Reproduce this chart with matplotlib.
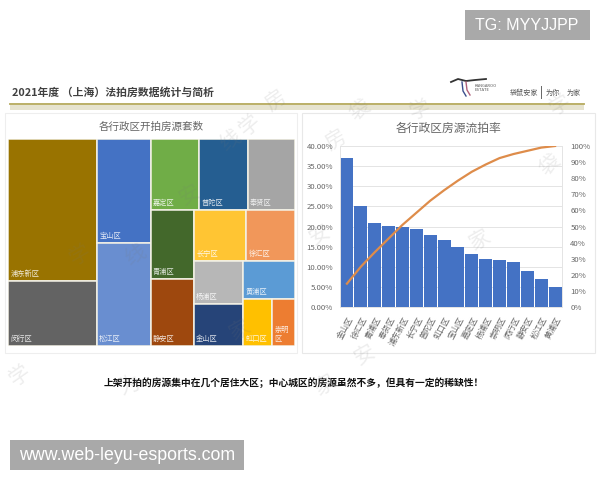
import matplotlib
matplotlib.use('Agg')
import matplotlib.pyplot as plt
from matplotlib.patches import Rectangle
from matplotlib.ticker import PercentFormatter

plt.rcParams['font.family'] = ['Noto Sans CJK SC', 'DejaVu Sans']

W, H = 600, 480

# treemap data, house counts
tree_names = ['浦东新区', '闵行区', '宝山区', '松江区', '嘉定区', '普陀区', '奉贤区', '青浦区',
              '静安区', '长宁区', '徐汇区', '杨浦区', '金山区', '黄浦区', '虹口区', '崇明区']
tree_values = [1228, 562, 548, 540, 336, 336, 329, 290, 281, 263, 242, 206, 206, 192, 129, 106]
tree_colors = ['#997300', '#636363', '#4472C4', '#698ED0', '#70AD47', '#255E91', '#A5A5A5', '#43682B',
               '#9E480E', '#FFC533', '#F1975A', '#B7B7B7', '#264478', '#5B9BD5', '#FFC000', '#ED7D31']

# bar + cumulative line data
bar_names = ['金山区', '徐汇区', '青浦区', '奉贤区', '浦东新区', '长宁区', '普陀区', '虹口区',
             '宝山区', '嘉定区', '杨浦区', '崇明区', '闵行区', '静安区', '松江区', '黄浦区']
bar_rates = [37.0, 25.0, 20.8, 20.1, 19.8, 19.5, 17.9, 16.6, 14.9, 13.1, 12.0, 11.7, 11.3, 9.0, 7.0, 5.0]
cum_rates = [14.5, 25, 34, 42.5, 51, 58.5, 66, 72.5, 78.5, 84, 88.5, 92.5, 95, 97, 99, 100]

# how the treemap is split up: h = side by side, v = stacked
layout = ('h', [('v', ['浦东新区', '闵行区']),
                ('v', ['宝山区', '松江区']),
                ('v', [('h', ['嘉定区', '普陀区', '奉贤区']),
                       ('h', [('v', ['青浦区', '静安区']),
                              ('v', [('h', ['长宁区', '徐汇区']),
                                     ('h', [('v', ['杨浦区', '金山区']),
                                            ('v', ['黄浦区', ('h', ['虹口区', '崇明区'])])])])])])])

watermarks = [(360, 110, '袋', 35), (275, 100, '房', 35), (250, 125, '学', 40), (230, 140, '线', 35),
              (80, 255, '学', 30), (20, 375, '学', 35), (130, 385, '为', 20), (325, 385, '家', 30),
              (335, 140, '房', 30), (320, 235, '安', 30), (480, 240, '家', 30), (550, 165, '袋', 40),
              (190, 195, '安', 30), (240, 330, '家', 30), (420, 110, '学', 20), (135, 255, '线', 30),
              (560, 105, '学', 30), (365, 355, '安', 30)]


def box(x0, y0, x1, y1):
    return [x0 / W, 1 - y1 / H, (x1 - x0) / W, (y1 - y0) / H]


def node_value(node):
    if isinstance(node, str):
        return tree_values[tree_names.index(node)]
    return sum(node_value(c) for c in node[1])


def draw_node(ax, node, x, y, w, h):
    if isinstance(node, str):
        i = tree_names.index(node)
        ax.add_patch(Rectangle((x, y), w, h, fc=tree_colors[i], ec='#F4F2E6', lw=1.1))
        # narrow cell gets its label wrapped
        label = node if w > 25 else node[:2] + '\n' + node[2:]
        ax.text(x + 2.5, y + h - 3, label, color='white', fontsize=5.2, va='bottom', ha='left', alpha=0.85)
        return
    total = node_value(node)
    for child in node[1]:
        part = node_value(child) / total
        if node[0] == 'h':
            draw_node(ax, child, x, y, w * part, h)
            x += w * part
        else:
            draw_node(ax, child, x, y, w, h * part)
            y += h * part


def draw_page(fig):
    bg = fig.add_axes([0, 0, 1, 1])
    bg.set_xlim(0, W)
    bg.set_ylim(H, 0)
    bg.axis('off')
    bg.text(12, 92, '2021年度 （上海）法拍房数据统计与简析', fontsize=7.8, fontweight='bold',
            color='#404040', va='center')
    bg.plot([10, 584], [103.5, 103.5], color='#B5A95C', lw=1.3)
    bg.add_patch(Rectangle((10, 105), 574, 5, fc='#E6E3CF', ec='none'))
    # logo
    bg.plot([451, 458, 466, 475, 486], [82, 79, 81, 80, 79], color='#333333', lw=1.3)
    bg.plot([462, 463, 466], [82, 91, 96], color='#3B4E8C', lw=1)
    bg.plot([466, 467, 470], [82, 90, 95], color='#B0607A', lw=1)
    bg.text(475, 88, 'KANGAROO\nESTATE', fontsize=3, color='#555555', va='center', linespacing=1)
    bg.text(510, 92.5, '袋鼠安家', fontsize=5.1, color='#555555', va='center')
    bg.plot([541, 541], [86, 98], color='#666666', lw=0.7)
    bg.text(546, 92.5, '为你', fontsize=5.1, color='#555555', va='center')
    bg.text(567, 92.5, '为家', fontsize=5.1, color='#555555', va='center')
    # chart frames
    bg.add_patch(Rectangle((5, 113), 292, 240, fc='white', ec='#EEEEEE', lw=0.8))
    bg.add_patch(Rectangle((302, 113), 293, 240, fc='white', ec='#E8E8E8', lw=0.8))
    bg.text(151.5, 127, '各行政区开拍房源套数', fontsize=7.6, color='#666666', ha='center', va='center')
    bg.text(448.5, 128, '各行政区房源流拍率', fontsize=8.5, color='#666666', ha='center', va='center')
    bg.text(294, 383, '上架开拍的房源集中在几个居住大区；中心城区的房源虽然不多，但具有一定的稀缺性！',
            fontsize=7, fontweight='bold', color='#111111', ha='center', va='center')
    return bg


def draw_tree(fig):
    ax = fig.add_axes(box(8, 139, 295, 346))
    ax.set_xlim(0, 287)
    ax.set_ylim(207, 0)
    ax.axis('off')
    draw_node(ax, layout, 0, 0, 287, 207)


def draw_bars(fig):
    ax = fig.add_axes(box(340, 146, 562, 307))
    xs = range(len(bar_names))
    ax.bar(xs, bar_rates, width=0.93, color='#4472C4', zorder=2)
    ax.set_xlim(-0.5, len(bar_names) - 0.5)
    ax.set_ylim(0, 40)
    ax.set_yticks(range(0, 41, 5))
    ax.yaxis.set_major_formatter(PercentFormatter(decimals=2))
    ax.set_xticks(list(xs))
    ax.set_xticklabels(bar_names, rotation=62, ha='right', rotation_mode='anchor', fontsize=5.8, color='#666666')
    ax.tick_params(axis='y', length=0, labelsize=5.6, labelcolor='#666666', pad=5)
    ax.tick_params(axis='x', length=0, labelsize=5.8, labelcolor='#666666', pad=6)
    ax.grid(axis='y', color='#E4E4E4', lw=0.7, zorder=0)
    for s in ax.spines.values():
        s.set_color('#E4E4E4')
        s.set_linewidth(0.7)

    ax2 = ax.twinx()
    ax2.plot(xs, cum_rates, color='#DE8C4A', lw=1.6)
    ax2.set_ylim(0, 100)
    ax2.set_yticks(range(0, 101, 10))
    ax2.yaxis.set_major_formatter(PercentFormatter(decimals=0))
    ax2.tick_params(length=0, labelsize=5.6, labelcolor='#666666', pad=6)
    for s in ax2.spines.values():
        s.set_visible(False)


def draw_overlay(fig):
    top = fig.add_axes([0, 0, 1, 1], facecolor='none')
    top.set_xlim(0, W)
    top.set_ylim(H, 0)
    top.axis('off')
    for x, y, ch, rot in watermarks:
        top.text(x, y, ch, fontsize=15, color='#777777', alpha=0.13, rotation=rot, ha='center', va='center')
    top.add_patch(Rectangle((465, 10), 125, 30, fc='#A9A9A9', ec='none'))
    top.text(527, 25, 'TG: MYYJJPP', fontsize=11.5, color='white', ha='center', va='center',
             family='Liberation Sans')
    top.add_patch(Rectangle((10, 440), 234, 30, fc='#A9A9A9', ec='none'))
    top.text(127, 455, 'www.web-leyu-esports.com', fontsize=12.8, color='white', ha='center', va='center',
             family='Liberation Sans')


if __name__ == '__main__':
    fig = plt.figure(figsize=(6, 4.8), dpi=100)
    draw_page(fig)
    draw_tree(fig)
    draw_bars(fig)
    draw_overlay(fig)
    fig.savefig('out.png', dpi=100)
